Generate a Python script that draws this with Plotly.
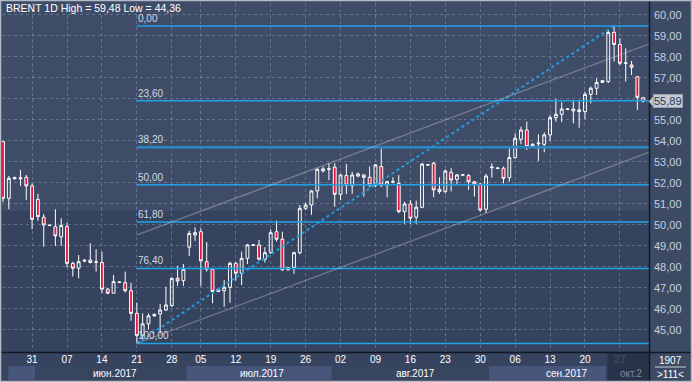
import plotly.graph_objects as go

# ---------------- data ----------------
opens = [53.97, 51.27, 52.20, 52.20, 52.27, 51.86, 51.22, 50.37, 49.97, 49.92,
         49.44, 49.92, 48.17, 47.94, 48.28, 48.33, 48.22, 48.21, 46.94, 46.75,
         47.26, 47.25, 46.87, 45.79, 44.76, 45.29, 45.74, 45.76, 45.95, 46.16,
         47.46, 47.35, 48.94, 49.52, 49.68, 48.25, 47.89, 46.83, 46.87, 47.03,
         48.17, 47.70, 48.41, 49.03, 49.05, 48.37, 48.68, 49.68, 49.32, 47.86,
         47.98, 48.68, 50.79, 50.95, 51.62, 52.57, 52.65, 52.75, 51.46, 52.35,
         51.87, 52.33, 52.38, 52.27, 51.87, 52.78, 51.90, 52.04, 51.98, 50.63,
         51.00, 50.37, 50.84, 52.85, 52.94, 51.59, 51.59, 52.51, 52.17, 52.37,
         52.35, 52.06, 51.95, 50.75, 52.73, 52.69, 52.70, 52.25, 53.21, 54.08,
         54.52, 53.73, 53.87, 53.84, 54.29, 55.11, 55.27, 55.50, 55.43, 55.40,
         55.40, 56.22, 56.51, 56.79, 56.83, 59.17, 58.60, 57.70, 57.62, 57.06,
         56.06]
highs = [54.00, 52.33, 52.30, 52.62, 52.38, 51.98, 51.48, 50.52, 50.00, 50.75,
         50.32, 50.11, 48.25, 48.57, 48.38, 49.13, 48.84, 48.73, 47.00, 47.62,
         47.30, 47.78, 47.25, 46.30, 45.79, 45.79, 45.79, 46.24, 47.06, 47.50,
         48.05, 48.14, 49.73, 49.89, 49.84, 49.19, 47.94, 46.96, 47.38, 48.25,
         48.25, 48.73, 49.10, 49.08, 49.29, 48.94, 49.79, 50.21, 49.68, 47.99,
         48.73, 50.95, 51.06, 51.67, 52.70, 52.78, 52.94, 52.94, 52.43, 52.90,
         52.54, 52.50, 52.43, 52.78, 52.90, 53.65, 52.10, 52.27, 52.38, 51.11,
         51.19, 51.16, 52.95, 52.90, 53.00, 52.27, 52.65, 52.70, 52.43, 52.40,
         52.43, 52.06, 52.00, 52.43, 52.94, 52.72, 52.78, 53.65, 54.37, 54.68,
         54.92, 53.90, 54.32, 54.41, 55.24, 56.00, 55.84, 55.56, 55.90, 55.90,
         56.35, 56.59, 56.98, 56.90, 59.29, 59.48, 58.89, 58.41, 57.81, 57.06,
         56.10]
lows = [51.10, 50.75, 52.15, 51.86, 51.20, 49.80, 50.20, 48.97, 49.95, 49.00,
        49.00, 47.98, 47.54, 47.46, 48.22, 48.17, 47.78, 46.75, 46.70, 46.75,
        47.24, 46.78, 45.44, 44.36, 44.52, 45.03, 45.64, 44.84, 45.90, 46.10,
        47.10, 47.10, 48.52, 49.25, 47.10, 47.78, 46.27, 46.80, 46.11, 46.30,
        47.35, 47.14, 48.14, 49.00, 48.30, 48.21, 48.62, 49.21, 47.83, 47.84,
        47.67, 48.60, 50.71, 50.48, 51.27, 52.50, 52.14, 50.87, 51.19, 51.48,
        51.48, 52.27, 51.35, 51.80, 51.80, 51.80, 51.32, 51.98, 50.56, 50.05,
        50.05, 50.05, 50.80, 52.82, 51.32, 51.48, 51.50, 51.59, 51.90, 52.35,
        51.67, 51.35, 50.63, 50.56, 52.25, 52.66, 51.98, 52.06, 53.15, 53.84,
        53.57, 53.68, 53.05, 53.46, 54.00, 54.92, 54.89, 55.47, 54.84, 54.63,
        55.05, 55.79, 56.19, 56.76, 56.75, 57.78, 57.62, 56.83, 57.14, 55.48,
        55.83]
closes = [51.27, 52.22, 52.25, 52.24, 51.86, 50.27, 50.40, 50.00, 49.99, 49.48,
          49.98, 48.17, 47.94, 48.25, 48.32, 48.21, 48.24, 46.94, 46.75, 47.30,
          47.28, 46.87, 45.79, 44.73, 45.29, 45.67, 45.67, 45.95, 46.19, 47.46,
          47.33, 47.89, 49.60, 49.63, 48.29, 47.89, 46.83, 46.94, 47.03, 48.17,
          47.70, 48.41, 49.05, 49.05, 48.37, 48.68, 49.63, 49.32, 47.86, 47.97,
          48.68, 50.79, 50.95, 51.62, 52.65, 52.67, 52.67, 51.46, 52.38, 51.90,
          52.38, 52.43, 52.27, 51.90, 52.86, 51.90, 52.06, 52.06, 50.63, 51.00,
          50.32, 50.84, 52.90, 52.87, 51.67, 51.70, 52.57, 52.14, 52.38, 52.39,
          52.06, 51.95, 50.71, 52.33, 52.75, 52.71, 52.22, 53.21, 54.13, 54.52,
          53.73, 53.84, 53.90, 54.29, 55.11, 55.27, 55.52, 55.52, 55.52, 55.48,
          56.22, 56.51, 56.79, 56.87, 59.17, 58.60, 57.70, 57.72, 57.51, 56.08,
          55.89]

week_tick_idx = [5, 11, 17, 23, 29, 34, 40, 46, 52, 58, 64, 70, 76, 82, 88, 94, 100, 106]
week_tick_text = ["31", "07", "14", "21", "28", "05", "12", "19", "26",
                  "02", "09", "16", "23", "30", "06", "13", "20",
                  "<span style='color:#7f8a9e'>27</span>"]
month_names = ["июн.2017", "июл.2017", "авг.2017", "сен.2017", "окт.2"]
month_label_idx = [19.2, 44.5, 70.8, 96.9, 107.9]
month_start_idx = [0.9, 5.5, 31.5, 56.5, 83.5, 103.6]

fib_levels = [0.0, 23.6, 38.2, 50.0, 61.8, 76.4, 100.0]
fib_labels = ["0,00", "23,60", "38,20", "50,00", "61,80", "76,40", "100,00"]

price_ticks = list(range(45, 61))
price_tick_text = [f"{v},00" for v in price_ticks]

# channel parameters (price units per bar)
channel_slope = 0.1034
channel_width = 5.16

n = len(opens)
xs = list(range(n))

# ---------------- geometry helpers ----------------
W, H = 692, 382
L_, R_, T_, B_ = 2, 43, 3, 30
PW, PH = W - L_ - R_, H - T_ - B_


def px(xp):
    return (xp - L_) / PW


def py(yp):
    return (H - B_ - yp) / PH


BG = "#3c4964"
FIB = "#1ea2e8"
FIB2 = "#2a88c4"
FONT = "Liberation Sans, Arial"

fig = go.Figure()
fig.add_trace(go.Candlestick(
    x=xs, open=opens, high=highs, low=lows, close=closes,
    increasing=dict(line=dict(color="white", width=1), fillcolor="rgba(0,0,0,0)"),
    decreasing=dict(line=dict(color="white", width=1), fillcolor="#e0173f"),
    whiskerwidth=0, showlegend=False, hoverinfo="skip",
))

shapes = []
annotations = []

# background bands inside the plot
shapes.append(dict(type="rect", xref="paper", yref="paper", x0=0, x1=1, y0=0, y1=1,
                   fillcolor="#3f4c68", line_width=0, layer="below"))
shapes.append(dict(type="rect", xref="paper", yref="paper", x0=0, x1=1, y0=0, y1=py(211),
                   fillcolor="#36435e", line_width=0, layer="below"))

# fib levels
lo_i = min(range(n), key=lambda i: lows[i])
hi_i = max(range(n), key=lambda i: highs[i])
hi, lo = highs[hi_i], lows[lo_i]
for lev, lab in zip(fib_levels, fib_labels):
    p = hi - (hi - lo) * lev / 100.0
    thick = lev in (38.2,)
    shapes.append(dict(type="line", xref="x", yref="y", x0=lo_i, x1=n + 1, y0=p, y1=p,
                       line=dict(color=FIB2 if thick else FIB, width=2.5 if thick else 1.5)))
    annotations.append(dict(x=lo_i, y=p, xref="x", yref="y", text=lab, showarrow=False,
                            xanchor="left", yanchor="bottom", yshift=0, xshift=-1,
                            font=dict(family=FONT, size=10, color="#d3dae6")))

# dotted fib trend line
shapes.append(dict(type="line", xref="x", yref="y", x0=lo_i, y0=lo, x1=hi_i, y1=hi,
                   line=dict(color="#1f9ddf", width=2, dash="dot")))

# channel
xe = n + 1
shapes.append(dict(type="line", xref="x", yref="y", x0=lo_i, y0=lo, x1=xe,
                   y1=lo + channel_slope * (xe - lo_i),
                   line=dict(color="rgba(200,205,215,0.35)", width=1.5)))
shapes.append(dict(type="line", xref="x", yref="y", x0=lo_i, y0=lo + channel_width, x1=xe,
                   y1=lo + channel_width + channel_slope * (xe - lo_i),
                   line=dict(color="rgba(200,205,215,0.35)", width=1.5)))

# bottom panel backgrounds
shapes.append(dict(type="rect", xref="paper", yref="paper", x0=px(0), x1=px(649),
                   y0=py(382), y1=py(352), fillcolor="#37445f", line_width=0, layer="below"))
for k in range(len(month_start_idx) - 1):
    shapes.append(dict(type="rect", xref="x", yref="paper",
                       x0=month_start_idx[k], x1=month_start_idx[k + 1],
                       y0=py(380), y1=py(366),
                       fillcolor="#47567a" if k % 2 == 0 else "#38455f",
                       line_width=0, layer="below"))
shapes.append(dict(type="rect", xref="paper", yref="paper", x0=px(608), x1=px(649),
                   y0=py(381), y1=py(353), fillcolor="rgba(30,38,56,0.55)", line_width=0))
shapes.append(dict(type="line", xref="paper", yref="paper", x0=px(608), x1=px(608),
                   y0=py(381), y1=py(353), line=dict(color="#2a3348", width=1)))
for k, name in enumerate(month_names):
    last_m = k == len(month_names) - 1
    annotations.append(dict(x=month_label_idx[k], y=py(373), xref="x", yref="paper", text=name,
                            showarrow=False, xanchor="center", yanchor="middle",
                            font=dict(family=FONT, size=10,
                                      color="#7f8a9e" if last_m else "white")))

# separators and frame
shapes.append(dict(type="line", xref="paper", yref="paper", x0=px(649.5), x1=px(649.5),
                   y0=py(0), y1=py(382), line=dict(color="#121826", width=1.5)))
shapes.append(dict(type="line", xref="paper", yref="paper", x0=px(0), x1=px(692),
                   y0=py(352.5), y1=py(352.5), line=dict(color="#121826", width=1.5)))
shapes.append(dict(type="rect", xref="paper", yref="paper", x0=px(0.5), x1=px(691.5),
                   y0=py(381.5), y1=py(0.5), line=dict(color="#b4bbc6", width=1.5)))
shapes.append(dict(type="line", xref="paper", yref="paper", x0=px(655), x1=px(686),
                   y0=py(367), y1=py(367), line=dict(color="#c8d0dc", width=1)))

# last price marker (box with a pointer)
last = closes[-1]
annotations.append(dict(x=px(653), y=last, xref="paper", yref="y",
                        text=f"{last:.2f}".replace(".", ","), showarrow=False,
                        xanchor="left", yanchor="middle", bgcolor="#c6cad2",
                        bordercolor="#9aa2ae", borderwidth=1, borderpad=0,
                        font=dict(family=FONT, size=11, color="#2d3a55")))
shapes.append(dict(type="path", xref="paper", yref="paper",
                   path=f"M {px(649)} {py(101.5)} L {px(653.5)} {py(96.5)} L {px(653.5)} {py(106.5)} Z",
                   fillcolor="#c6cad2", line=dict(color="#9aa2ae", width=1)))

annotations.append(dict(x=px(4), y=py(8), xref="paper", yref="paper",
                        text="BRENT 1D High = 59,48 Low = 44,36", showarrow=False,
                        xanchor="left", yanchor="middle",
                        font=dict(family=FONT, size=10.5, color="white")))
annotations.append(dict(x=px(670), y=py(360), xref="paper", yref="paper", text="1907",
                        showarrow=False, xanchor="center", yanchor="middle",
                        font=dict(family=FONT, size=10, color="white")))
annotations.append(dict(x=px(670), y=py(374), xref="paper", yref="paper", text=">111<",
                        showarrow=False, xanchor="center", yanchor="middle",
                        font=dict(family=FONT, size=10, color="white")))

fig.update_layout(
    width=W, height=H,
    margin=dict(l=L_, r=R_, t=T_, b=B_),
    paper_bgcolor="#3d4a64",
    plot_bgcolor=BG,
    shapes=shapes, annotations=annotations,
    showlegend=False,
    xaxis=dict(range=[-0.17, 111.0], rangeslider=dict(visible=False),
               tickvals=week_tick_idx, ticktext=week_tick_text,
               showgrid=True, gridcolor="rgba(150,165,190,0.45)", griddash="dot", gridwidth=1,
               ticks="", zeroline=False, showline=False,
               tickfont=dict(family=FONT, size=10, color="white")),
    yaxis=dict(range=[43.95, 60.57], side="right", tickvals=price_ticks, ticktext=price_tick_text,
               showgrid=True, gridcolor="rgba(150,165,190,0.45)", griddash="dot", gridwidth=1,
               ticks="", zeroline=False, showline=False, ticklabelstandoff=4,
               tickfont=dict(family=FONT, size=11, color="#c5d0e2")),
)

fig.write_html("out.html", config={"displayModeBar": False},
               post_script="document.body.style.margin='0';document.body.style.overflow='hidden';")
